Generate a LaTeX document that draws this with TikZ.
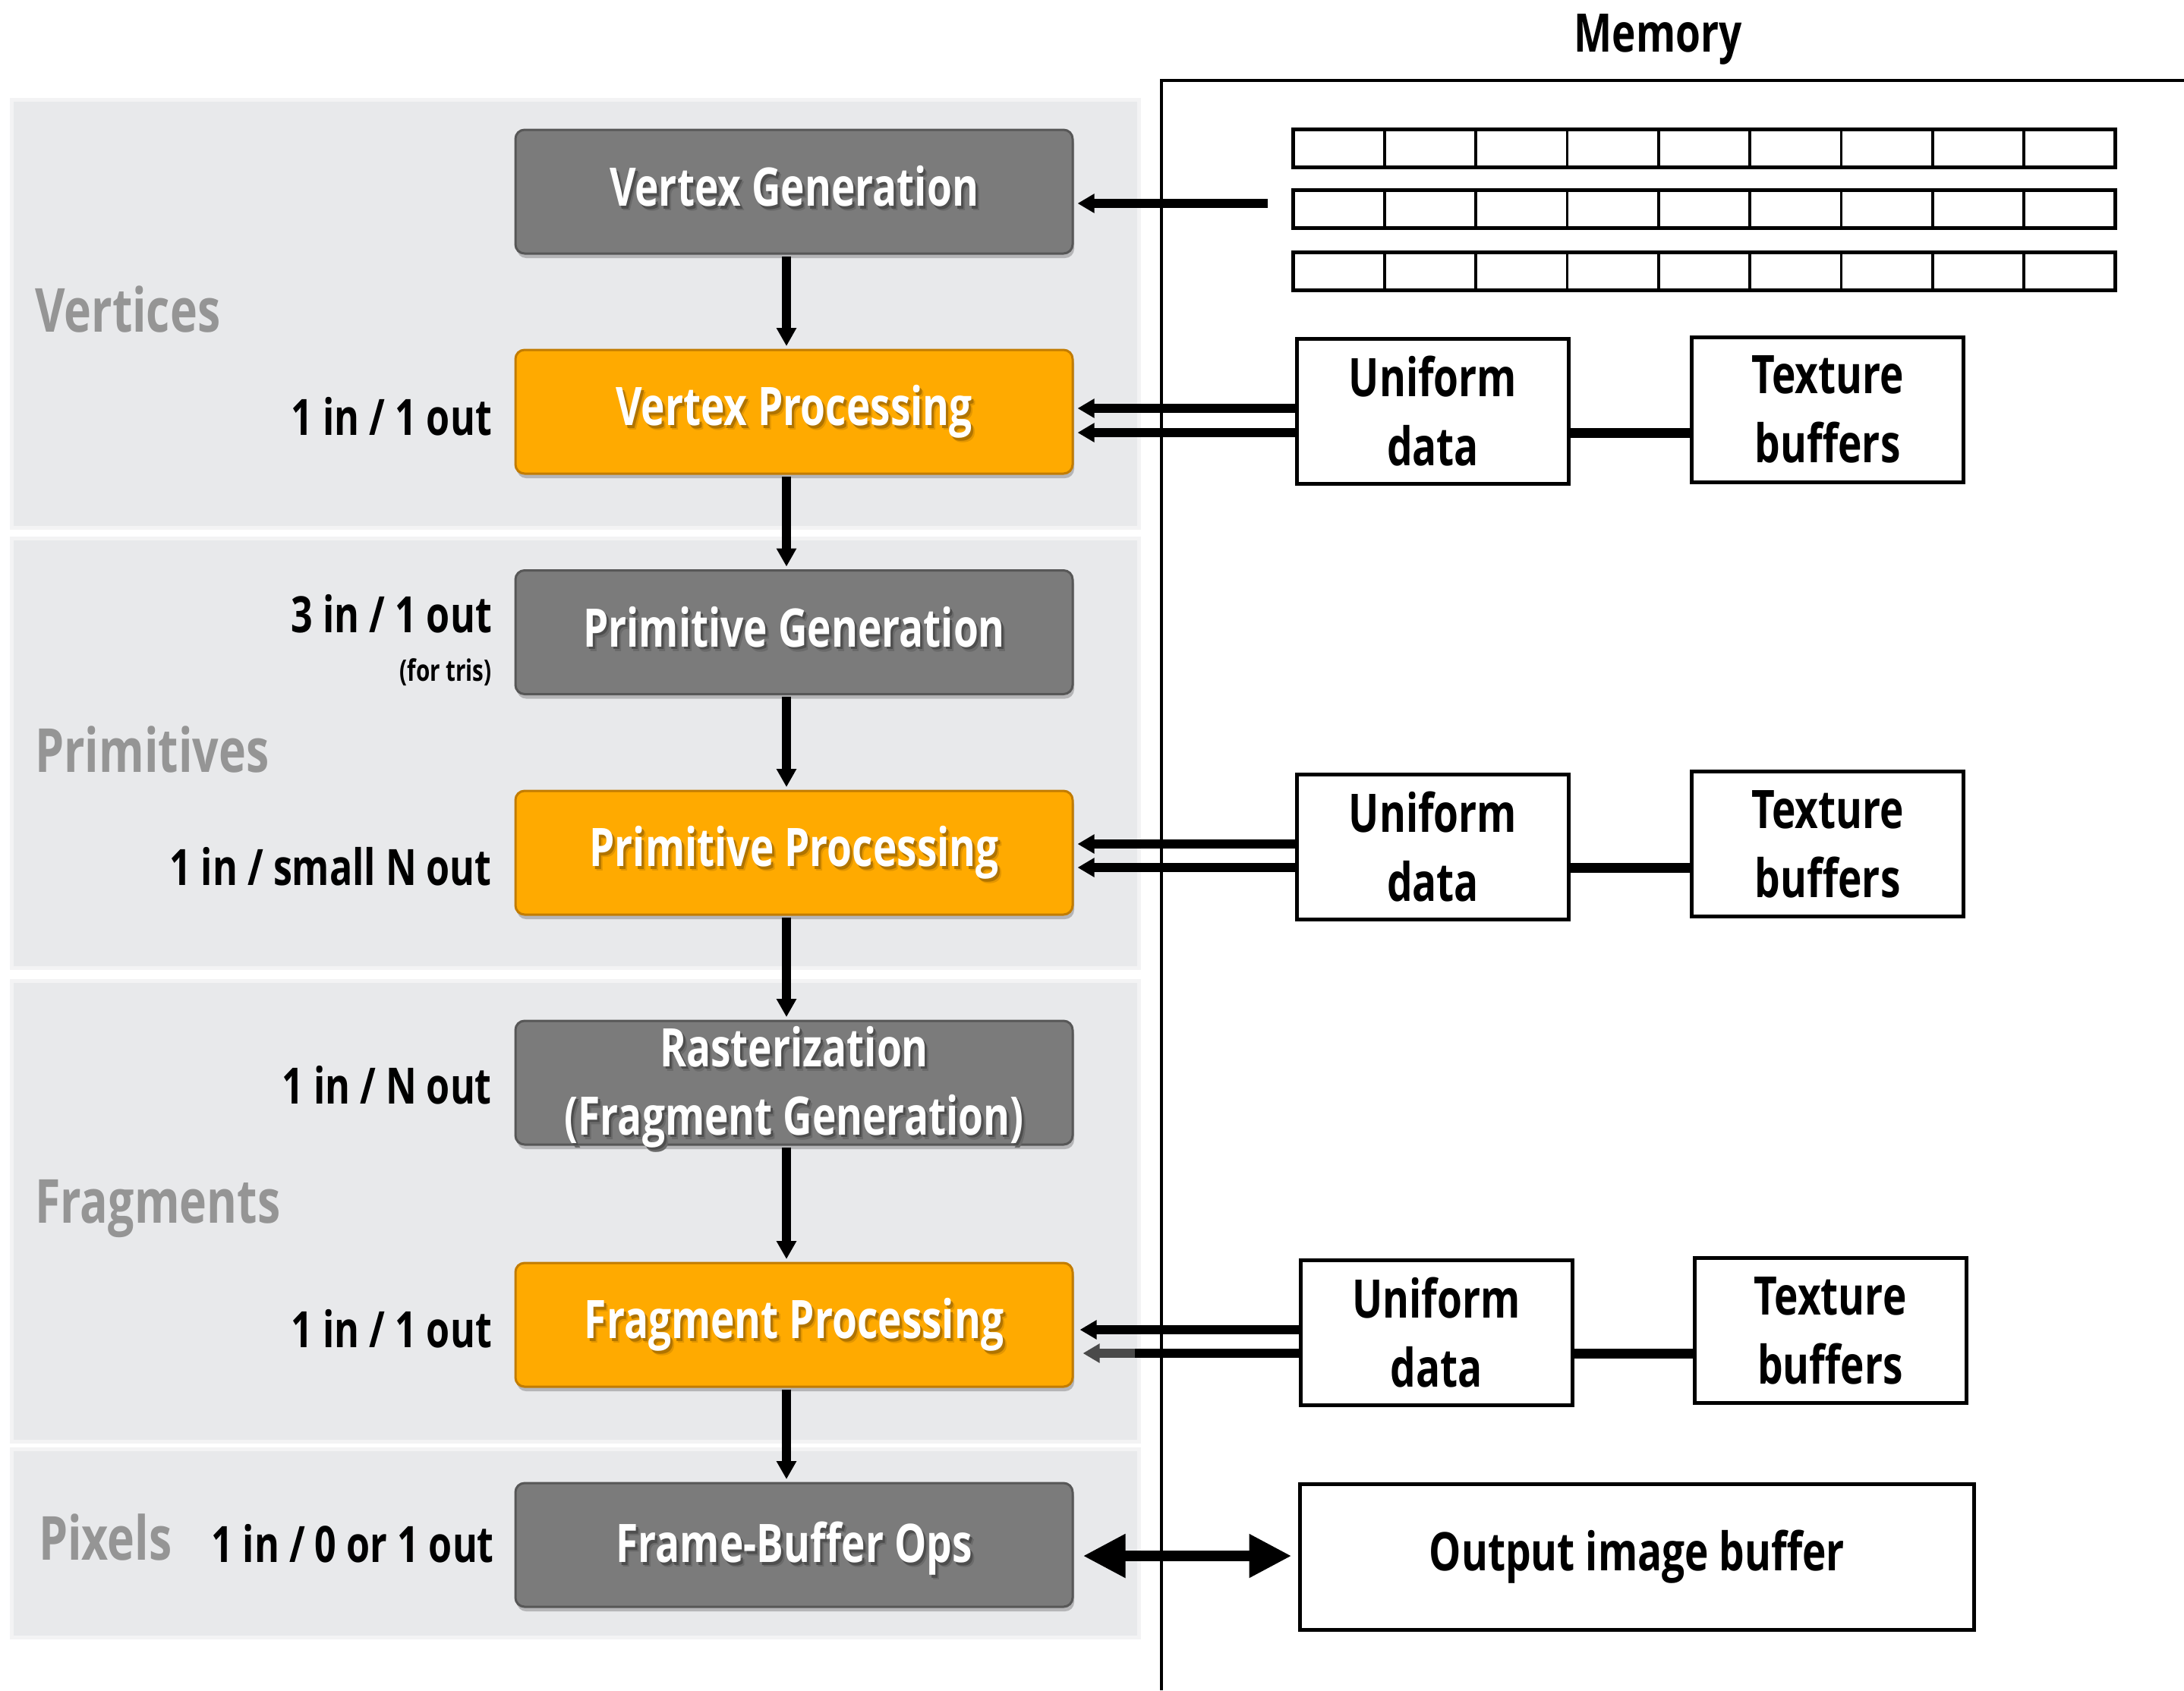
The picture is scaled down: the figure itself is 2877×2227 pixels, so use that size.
\documentclass[tikz,border=0pt]{standalone}
\usepackage{fontspec}
\newfontfamily\condsans[FakeStretch=0.76]{Open Sans}
\usetikzlibrary{arrows.meta,shadows}

\definecolor{panelgray}{HTML}{E8E9EB}
\definecolor{panelsoft}{HTML}{F3F3F4}
\definecolor{stagegray}{HTML}{7B7B7B}
\definecolor{stagegrayline}{HTML}{575757}
\definecolor{stageorange}{HTML}{FFAA00}
\definecolor{stageorangeline}{HTML}{C27C00}
\definecolor{tagtext}{HTML}{959595}
\definecolor{darkarrow}{HTML}{4A4A4A}
\definecolor{grayfar}{HTML}{6A6A6A}
\definecolor{graynear}{HTML}{4E4E4E}
\definecolor{orangefar}{HTML}{E39600}
\definecolor{orangenear}{HTML}{B07400}

% text with a two-layer soft drop shadow underneath it
\newcommand\softshadow[3]{%
  \rlap{\hspace{5pt}\raisebox{-6pt}{\textcolor{#1}{#3}}}%
  \rlap{\hspace{3pt}\raisebox{-3.5pt}{\textcolor{#2}{#3}}}%
  #3}
% caption of a stage: name, base point, far shadow, near shadow, text
\newcommand\capt[5]{%
  \node[captfront] (#1) at (#2) {\softshadow{#3}{#4}{#5}};
}

\begin{document}
\begin{tikzpicture}[x=1pt,y=-1pt,
  stagebox/.style={rounded corners=12pt, minimum width=734pt, minimum height=163pt,
    line width=3pt, inner sep=0pt,
    drop shadow={shadow xshift=2pt, shadow yshift=-6pt, opacity=0.22, fill=black}},
  graystage/.style={stagebox, fill=stagegray, draw=stagegrayline},
  orangestage/.style={stagebox, fill=stageorange, draw=stageorangeline},
  captfront/.style={anchor=base, inner sep=0pt, text=white,
    font=\condsans\bfseries\fontsize{70}{91}\selectfont},
  membox/.style={draw, line width=5pt, fill=white, minimum width=358pt,
    minimum height=191pt, inner sep=0pt, outer sep=0pt, align=center,
    font=\condsans\bfseries\fontsize{70}{91}\selectfont},
  memrow/.style={draw, line width=5pt, fill=white, minimum width=1083pt,
    minimum height=50pt, inner sep=0pt, outer sep=0pt},
  tag/.style={anchor=base west, inner sep=0pt, text=tagtext,
    font=\condsans\bfseries\fontsize{80}{90}\selectfont},
  rate/.style={anchor=base east, inner sep=0pt,
    font=\condsans\bfseries\fontsize{66}{80}\selectfont},
  varrow/.style={line width=12pt, -{Triangle[width=25pt,length=24pt]},
    shorten <=2pt, shorten >=3.5pt},
  harrow/.style={line width=12pt, -{Triangle[width=24pt,length=22pt]},
    shorten >=5pt},
  link/.style={line width=13pt},
  dblarrow/.style={line width=14pt,
    {Triangle[width=54pt,length=56pt]}-{Triangle[width=54pt,length=56pt]},
    shorten <=12pt, shorten >=11pt}
]
\useasboundingbox (0,0) rectangle (2877,2227);
\fill[white] (0,0) rectangle (2877,2227);

% background bands of the pipeline
\foreach \ya/\yb in {134/693,712/1273,1295/1897,1912/2155} {
  \fill[panelsoft] (13,\ya-5) rectangle (1503,\yb+5);
  \fill[panelgray] (18,\ya) rectangle (1498,\yb);
}

% memory region
\draw[line width=4pt] (1530,2227) -- (1530,106) -- (2877,106);
\node[anchor=base, inner sep=0pt, font=\condsans\bfseries\fontsize{70}{91}\selectfont]
  (memtitle) at (2184,68) {Memory};

% vertex buffers
\foreach \yc [count=\k] in {195.5,275.5,357} {
  \node[memrow] (row\k) at (2245,\yc) {};
  \foreach \i in {1,...,8}
    \draw[line width=3.5pt] ([xshift=\i*120.33pt]row\k.north west)
      -- ([xshift=\i*120.33pt]row\k.south west);
}

% pipeline stages
\node[graystage]   (vg) at (1046,252.5) {};
\node[orangestage] (vp) at (1046,542.5) {};
\node[graystage]   (pg) at (1046,833) {};
\node[orangestage] (pp) at (1046,1123.5) {};
\node[graystage]   (ra) at (1046,1426.5) {};
\node[orangestage] (fp) at (1046,1745.5) {};
\node[graystage]   (fb) at (1046,2035.5) {};

\coordinate (vg-b)  at ([yshift=-19pt]vg.center);
\coordinate (vp-b)  at ([yshift=-18pt]vp.center);
\coordinate (pg-b)  at ([yshift=-19pt]pg.center);
\coordinate (pp-b)  at ([yshift=-18pt]pp.center);
\coordinate (ra-b1) at ([yshift=21.5pt]ra.center);
\coordinate (ra-b2) at ([yshift=-68.5pt]ra.center);
\coordinate (fp-b)  at ([yshift=-18pt]fp.center);
\coordinate (fb-b)  at ([yshift=-23pt]fb.center);

\capt{vg-t}{vg-b}{grayfar}{graynear}{Vertex Generation}
\capt{vp-t}{vp-b}{orangefar}{orangenear}{Vertex Processing}
\capt{pg-t}{pg-b}{grayfar}{graynear}{Primitive Generation}
\capt{pp-t}{pp-b}{orangefar}{orangenear}{Primitive Processing}
\capt{ra-t1}{ra-b1}{grayfar}{graynear}{Rasterization}
\capt{ra-t2}{ra-b2}{grayfar}{graynear}{(Fragment Generation)}
\capt{fp-t}{fp-b}{orangefar}{orangenear}{Fragment Processing}
\capt{fb-t}{fb-b}{grayfar}{graynear}{Frame-Buffer Ops}

\foreach \a/\b in {vg/vp,vp/pg,pg/pp,pp/ra,ra/fp,fp/fb}
  \draw[varrow] ([xshift=-10pt]\a.south) -- ([xshift=-10pt]\b.north);

% stage labels
\node[tag] (tag-v) at (46,437)  {Vertices};
\node[tag] (tag-p) at (46,1017) {Primitives};
\node[tag] (tag-f) at (46,1611) {Fragments};
\node[tag] (tag-x) at (51,2055) {Pixels};

\node[rate] (r1)  at (648,573)  {1 in / 1 out};
\node[rate] (r2)  at (648,833)  {3 in / 1 out};
\node[rate, font=\condsans\bfseries\fontsize{39}{45}\selectfont] (r2n) at (648,897) {(for tris)};
\node[rate] (r3)  at (648,1166) {1 in / small N out};
\node[rate] (r4)  at (648,1454) {1 in / N out};
\node[rate] (r5)  at (648,1775) {1 in / 1 out};
\node[rate] (r6)  at (651,2058) {1 in / 0 or 1 out};

% fetch of vertex data
\coordinate (fetch) at (1670,268);
\draw[harrow] (fetch) -- (vg.east |- fetch);

% uniform data and textures
\node[membox] (u1) at (1887.5,542)    {Uniform\\data};
\node[membox] (t1) at (2407.5,539.5)  {Texture\\buffers};
\node[membox] (u2) at (1887.5,1115.5) {Uniform\\data};
\node[membox] (t2) at (2407.5,1112)   {Texture\\buffers};
\node[membox] (u3) at (1892,1755.5)   {Uniform\\data};
\node[membox] (t3) at (2411,1753)     {Texture\\buffers};

\coordinate (l1a) at (0,538);
\coordinate (l1b) at (0,570);
\coordinate (l2a) at (0,1112);
\coordinate (l2b) at (0,1143);
\coordinate (l3a) at (0,1752);
\coordinate (l3b) at (0,1783);
\coordinate (lo)  at (0,2050);
\coordinate (fade) at (1495,1783);

\draw[harrow] (u1.west |- l1a) -- (vp.east |- l1a);
\draw[harrow] (u1.west |- l1b) -- (vp.east |- l1b);
\draw[link]   (u1.east |- l1b) -- (t1.west |- l1b);

\draw[harrow] (u2.west |- l2a) -- (pp.east |- l2a);
\draw[harrow] (u2.west |- l2b) -- (pp.east |- l2b);
\draw[link]   (u2.east |- l2b) -- (t2.west |- l2b);

\draw[harrow, shorten >=8pt] (u3.west |- l3a) -- (fp.east |- l3a);
\draw[harrow, draw=darkarrow, shorten >=12pt] (u3.west |- l3b) -- (fp.east |- l3b);
\draw[line width=12pt] (u3.west |- l3b) -- (fade);
\draw[link]   (u3.east |- l3b) -- (t3.west |- l3b);

% output image
\node[membox, minimum width=888pt, minimum height=192pt] (out) at (2156.5,2051.5)
  {Output image buffer};
\draw[dblarrow] (fb.east |- lo) -- (out.west |- lo);
\end{tikzpicture}
\end{document}
